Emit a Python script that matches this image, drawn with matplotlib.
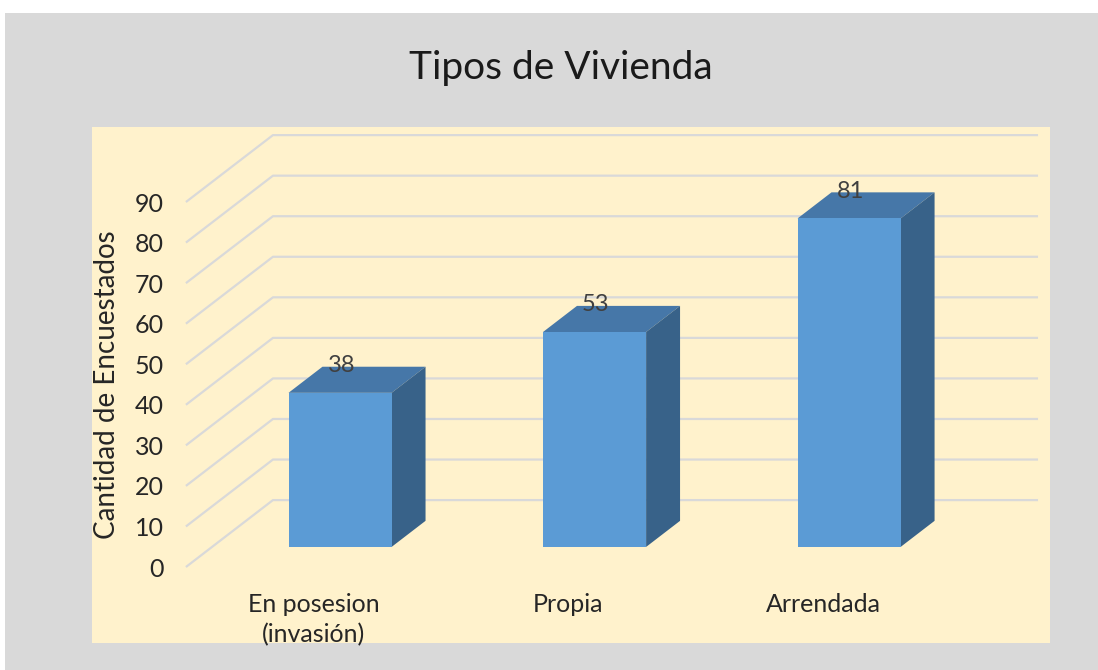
import matplotlib.pyplot as plt
from matplotlib.patches import Rectangle

# data
categories = ['En posesion\n(invasión)', 'Propia', 'Arrendada']
values = [38, 53, 81]
yticks = [0, 10, 20, 30, 40, 50, 60, 70, 80, 90]

plt.rcParams['font.family'] = ['Lato', 'DejaVu Sans']

# pseudo 3d geometry (category units / value units)
DEPTH_X, DEPTH_Y = 0.342, 16.5     # full floor depth offset
BAR_D0, BAR_D1 = 0.30, 0.69        # bar front/back as fraction of depth
BAR_W = 0.405
AXIS_X = -0.503                    # front edge of the value axis
GRID_END = 2.845

face_col = '#5B9BD5'
top_col = '#4677A8'
side_col = '#386289'
grid_col = '#D9D9D9'

fig = plt.figure(figsize=(10.98, 6.70), dpi=100, facecolor='#D9D9D9')
# white strip along top and left edge of the screenshot
fig.patches.append(Rectangle((0, 1 - 13 / 670), 1, 13 / 670, transform=fig.transFigure,
                             facecolor='white', edgecolor='none', zorder=-1))
fig.patches.append(Rectangle((0, 0), 5 / 1098, 1, transform=fig.transFigure,
                             facecolor='white', edgecolor='none', zorder=-1))

ax = fig.add_axes([92 / 1098, 1 - 643 / 670, 958 / 1098, 516 / 670])
ax.set_facecolor('#FFF2CC')
ax.set_xlim(-0.872, 2.892)
ax.set_ylim(-18.74, 108.5)
for s in ax.spines.values():
    s.set_visible(False)

# gridlines: diagonal on the side wall, then across the back wall
for v in yticks:
    ax.plot([AXIS_X, AXIS_X + DEPTH_X, GRID_END], [v, v + DEPTH_Y, v + DEPTH_Y],
            color=grid_col, lw=1.6, zorder=1, solid_capstyle='butt')

# bars
dx0, dy0 = BAR_D0 * DEPTH_X, BAR_D0 * DEPTH_Y
ddx, ddy = (BAR_D1 - BAR_D0) * DEPTH_X, (BAR_D1 - BAR_D0) * DEPTH_Y
for i, v in enumerate(values):
    l = i + dx0 - BAR_W / 2
    r = i + dx0 + BAR_W / 2
    b = dy0
    t = v + dy0
    ax.fill([l, r, r + ddx, l + ddx], [t, t, t + ddy, t + ddy], color=top_col, zorder=2, lw=0)
    ax.fill([r, r + ddx, r + ddx, r], [b, b + ddy, t + ddy, t], color=side_col, zorder=2, lw=0)
    ax.text(i + dx0 + 0.005, t + ddy + 0.3, str(v), ha='center', va='center',
            fontsize=17, color='#404040', zorder=4)
ax.bar([i + dx0 for i in range(len(values))], values, bottom=dy0, width=BAR_W,
       color=face_col, zorder=3, lw=0)

# pads are in points (1 pt = 100/72 px here)
ax.set_yticks(yticks)
ax.set_yticklabels([str(t) for t in yticks])
ax.tick_params(axis='y', length=0, pad=-51.5, labelsize=18, labelcolor='#262626')
ax.set_xticks(range(len(categories)))
ax.set_xticklabels(categories, linespacing=1.35)
ax.tick_params(axis='x', length=0, pad=-36, labelsize=18, labelcolor='#262626')
ax.set_ylabel('Cantidad de Encuestados', fontsize=20, color='#262626')
ax.yaxis.set_label_coords(0.029, 0.5)

fig.text(561 / 1098, 1 - 68 / 670, 'Tipos de Vivienda', ha='center', va='center',
         fontsize=28, color='#1a1a1a')

fig.savefig('out.png', dpi=100, facecolor=fig.get_facecolor())
